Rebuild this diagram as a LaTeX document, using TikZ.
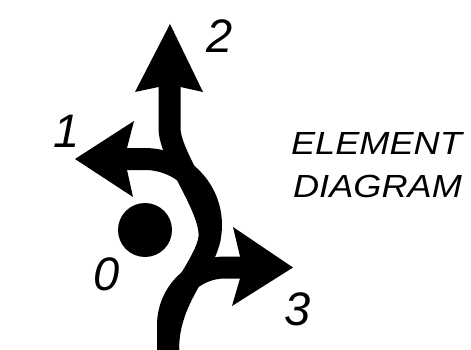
\documentclass[tikz,border=0pt]{standalone}
\usepackage{fontspec}
\setmainfont{Liberation Sans}
\begin{document}
\begin{tikzpicture}[x=1pt,y=-1pt,
  road/.style={line width=22pt, draw=black},
  headfill/.style={fill=black},
  dig/.style={font=\fontsize{47}{47}\selectfont\itshape, inner sep=0pt},
  lbl/.style={font=\fontsize{32}{40}\selectfont\itshape, inner sep=0pt}]
\useasboundingbox[fill=white] (0,0) rectangle (471,350);
% named points
\coordinate (entry) at (168,356);
\coordinate (ringR) at (208.75,242.1);
\coordinate (stemTop) at (169.5,128);
\coordinate (tip2) at (169.5,85);
\coordinate (tip1) at (126,159);
\coordinate (tip3) at (242,267.5);
% exit 3 (right)
\draw[road] (entry) -- (168,325) .. controls (168,293.5) and (193.5,267.5) .. (225,267.5) -- (tip3);
\fill[headfill] (293,267.5) -- (233,227) -- (240,256.5) -- (240,278.5) -- (232,306) -- cycle;
% exit 1 (left, around the island)
\draw[road] (entry) -- (168,350) .. controls (168,300) and (201,271.1) .. (ringR)
  arc[start angle=15, end angle=-90, radius=66] -- (tip1);
\fill[headfill] (75,159) -- (134,121) -- (127,148) -- (127,170) -- (133,197) -- cycle;
% exit 2 (straight)
\draw[road] (ringR) .. controls (216.5,213) and (169.5,158) .. (stemTop) -- (tip2);
\fill[headfill] (170,24) -- (135,92) -- (158.5,87) -- (180.5,87) -- (203,92) -- cycle;
% island
\node[circle, fill=black, minimum size=54pt, inner sep=0pt] (island) at (145,230) {};
% labels
\node[dig] (l0) at (107,274) {0};
\node[dig] (l1) at (67,131) {1};
\node[dig] (l2) at (220,36) {2};
\node[dig] (l3) at (298,309) {3};
\node[lbl] (t1) at (376.5,143.5) {\scalebox{1.13}[1]{ELEMENT}};
\node[lbl] (t2) at (377.5,186.5) {\scalebox{1.13}[1]{DIAGRAM}};
\end{tikzpicture}
\end{document}
